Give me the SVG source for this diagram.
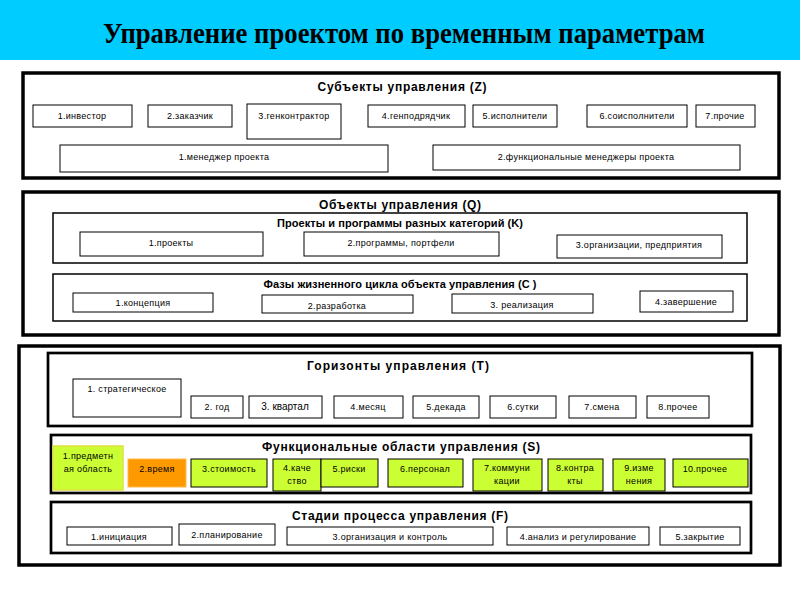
<svg xmlns="http://www.w3.org/2000/svg" width="800" height="600" viewBox="0 0 800 600">
<style>
.sec{fill:none;stroke:#000;stroke-width:3.5}
.frm{fill:none;stroke:#000;stroke-width:2.7}
.frm2{fill:none;stroke:#000;stroke-width:1.5}
.box{fill:#fff;stroke:#000;stroke-width:1}
.g{fill:#ccff33;stroke:#000;stroke-width:1}
.hd{font-family:"Liberation Sans",Arial,sans-serif;font-weight:bold;font-size:12px;text-anchor:middle;fill:#000}
.hd2{font-family:"Liberation Sans",Arial,sans-serif;font-weight:bold;font-size:11px;text-anchor:middle;fill:#000}
.lb{font-family:"Liberation Sans",Arial,sans-serif;font-size:9px;letter-spacing:0.3px;text-anchor:middle;fill:#000}
.lb2{font-family:"Liberation Sans",Arial,sans-serif;font-size:10px;text-anchor:middle;fill:#000}
</style>
<rect x="0" y="0" width="800" height="600" fill="#fff"/>
<g id="title">
<rect x="0" y="0" width="800" height="60" fill="#00ccff"/>
<text x="404" y="43" font-family="'Liberation Serif','Times New Roman',serif" font-weight="bold" font-size="30" text-anchor="middle" textLength="602" lengthAdjust="spacingAndGlyphs">Управление проектом по временным параметрам</text>
</g>
<g id="connectors"></g>

<g id="section-Z">
<rect class="sec" x="23" y="73" width="756" height="105"/>
<text class="hd" x="402" y="91" textLength="169" lengthAdjust="spacing">Субъекты управления (Z)</text>
</g>
<g id="z1"><rect class="box" x="33" y="105" width="99" height="22"/><text class="lb" x="82" y="119">1.инвестор</text></g>
<g id="z2"><rect class="box" x="148" y="105" width="84" height="22"/><text class="lb" x="190" y="119">2.заказчик</text></g>
<g id="z3"><rect class="box" x="247" y="104" width="94" height="35"/><text class="lb" x="294" y="119">3.генконтрактор</text></g>
<g id="z4"><rect class="box" x="368" y="105" width="97" height="22"/><text class="lb" x="416" y="119">4.генподрядчик</text></g>
<g id="z5"><rect class="box" x="473" y="105" width="84" height="22"/><text class="lb" x="515" y="119">5.исполнители</text></g>
<g id="z6"><rect class="box" x="587" y="105" width="100" height="22"/><text class="lb" x="637" y="119">6.соисполнители</text></g>
<g id="z7"><rect class="box" x="696" y="105" width="59" height="22"/><text class="lb" x="725" y="119">7.прочие</text></g>
<g id="z8"><rect class="box" x="60" y="145" width="328" height="27"/><text class="lb" x="224" y="160">1.менеджер проекта</text></g>
<g id="z9"><rect class="box" x="433" y="145" width="307" height="25"/><text class="lb" x="586" y="160">2.функциональные менеджеры проекта</text></g>

<g id="section-Q">
<rect class="sec" x="23" y="192" width="756" height="143"/>
<text class="hd" x="400" y="209" textLength="162" lengthAdjust="spacing">Объекты управления (Q)</text>
</g>
<g id="frame-K">
<rect class="frm2" x="53" y="213" width="694" height="50"/>
<text class="hd2" x="400" y="227" textLength="246" lengthAdjust="spacing">Проекты и программы разных категорий (K)</text>
</g>
<g id="k1"><rect class="box" x="80" y="232" width="183" height="24"/><text class="lb" x="171" y="246">1.проекты</text></g>
<g id="k2"><rect class="box" x="304" y="232" width="195" height="24"/><text class="lb" x="401" y="246">2.программы, портфели</text></g>
<g id="k3"><rect class="box" x="557" y="235" width="165" height="23"/><text class="lb" x="639" y="248">3.организации, предприятия</text></g>
<g id="frame-C">
<rect class="frm2" x="53" y="274" width="694" height="47"/>
<text class="hd2" x="400" y="288" textLength="273" lengthAdjust="spacing">Фазы жизненного цикла объекта управления (C )</text>
</g>
<g id="c1"><rect class="box" x="73" y="293" width="140" height="19"/><text class="lb" x="143" y="306">1.концепция</text></g>
<g id="c2"><rect class="box" x="262" y="295" width="151" height="18"/><text class="lb" x="337" y="309">2.разработка</text></g>
<g id="c3"><rect class="box" x="452" y="294" width="141" height="19"/><text class="lb" x="522" y="308">3. реализация</text></g>
<g id="c4"><rect class="box" x="640" y="291" width="93" height="21"/><text class="lb" x="686" y="305">4.завершение</text></g>

<g id="section-3">
<rect class="sec" x="19" y="346" width="761" height="219"/>
</g>
<g id="frame-T">
<rect class="frm" x="48" y="353" width="704" height="73"/>
<text class="hd" x="398" y="370" textLength="182" lengthAdjust="spacing">Горизонты  управления (T)</text>
</g>
<g id="t1"><rect class="box" x="73" y="379" width="108" height="38"/><text class="lb" x="127" y="392">1. стратегическое</text></g>
<g id="t2"><rect class="box" x="191" y="396" width="52" height="22"/><text class="lb" x="217" y="410">2. год</text></g>
<g id="t3"><rect class="box" x="249" y="396" width="73" height="22"/><text class="lb2" x="285" y="410">3. квартал</text></g>
<g id="t4"><rect class="box" x="334" y="396" width="69" height="22"/><text class="lb" x="368" y="410">4.месяц</text></g>
<g id="t5"><rect class="box" x="413" y="396" width="66" height="22"/><text class="lb" x="446" y="410">5.декада</text></g>
<g id="t6"><rect class="box" x="490" y="396" width="66" height="22"/><text class="lb" x="523" y="410">6.сутки</text></g>
<g id="t7"><rect class="box" x="569" y="396" width="67" height="22"/><text class="lb" x="602" y="410">7.смена</text></g>
<g id="t8"><rect class="box" x="647" y="396" width="62" height="22"/><text class="lb" x="678" y="410">8.прочее</text></g>

<g id="frame-S">
<rect class="frm" x="51" y="435" width="700" height="58"/>
<text class="hd" x="401" y="451" textLength="278" lengthAdjust="spacing">Функциональные области управления (S)</text>
</g>
<g id="s1"><rect x="53" y="446" width="70" height="44" fill="#ccff33" stroke="#e0e040" stroke-width="1.5"/><text class="lb" x="88" y="459">1.предметн</text><text class="lb" x="88" y="472">ая область</text></g>
<g id="s2"><rect x="128" y="459" width="58" height="28" fill="#ff9900" stroke="#ffb84d" stroke-width="1"/><text class="lb" x="157" y="472">2.время</text></g>
<g id="s3"><rect class="g" x="191" y="459" width="76" height="28"/><text class="lb" x="229" y="472">3.стоимость</text></g>
<g id="s4"><rect class="g" x="273" y="459" width="48" height="32"/><text class="lb" x="297" y="471">4.каче</text><text class="lb" x="297" y="484">ство</text></g>
<g id="s5"><rect class="g" x="321" y="459" width="57" height="28"/><text class="lb" x="349" y="472">5.риски</text></g>
<g id="s6"><rect class="g" x="388" y="459" width="75" height="28"/><text class="lb" x="425" y="472">6.персонал</text></g>
<g id="s7"><rect class="g" x="473" y="459" width="69" height="32"/><text class="lb" x="507" y="471">7.коммуни</text><text class="lb" x="507" y="484">кации</text></g>
<g id="s8"><rect class="g" x="548" y="459" width="55" height="32"/><text class="lb" x="575" y="471">8.контра</text><text class="lb" x="575" y="484">кты</text></g>
<g id="s9"><rect class="g" x="613" y="459" width="52" height="32"/><text class="lb" x="639" y="471">9.изме</text><text class="lb" x="639" y="484">нения</text></g>
<g id="s10"><rect class="g" x="673" y="459" width="75" height="28"/><text class="lb" x="705" y="472">10.прочее</text></g>

<g id="frame-F">
<rect class="frm" x="51" y="502" width="700" height="51"/>
<text class="hd" x="400" y="520" textLength="216" lengthAdjust="spacing">Стадии процесса управления (F)</text>
</g>
<g id="f1"><rect class="box" x="67" y="527" width="105" height="18"/><text class="lb" x="119" y="540">1.инициация</text></g>
<g id="f2"><rect class="box" x="179" y="524" width="96" height="21"/><text class="lb" x="227" y="538">2.планирование</text></g>
<g id="f3"><rect class="box" x="287" y="527" width="206" height="18"/><text class="lb" x="390" y="540">3.организация и контроль</text></g>
<g id="f4"><rect class="box" x="507" y="527" width="142" height="18"/><text class="lb" x="578" y="540">4.анализ и регулирование</text></g>
<g id="f5"><rect class="box" x="660" y="527" width="80" height="18"/><text class="lb" x="700" y="540">5.закрытие</text></g>
</svg>
